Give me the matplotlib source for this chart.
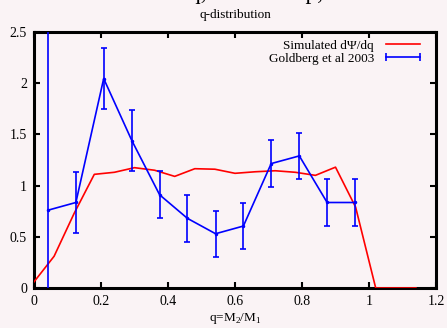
import matplotlib
matplotlib.use("Agg")
import matplotlib.pyplot as plt
from matplotlib.lines import Line2D

plt.rcParams['font.family'] = ['Liberation Serif', 'DejaVu Serif']
plt.rcParams['mathtext.fontset'] = 'custom'
plt.rcParams['mathtext.rm'] = 'Liberation Serif'

# Simulated dPsi/dq
sim_q = [0.0, 0.06, 0.12, 0.18, 0.24, 0.30, 0.36, 0.42, 0.48, 0.54, 0.60,
         0.66, 0.72, 0.78, 0.84, 0.90, 0.96, 1.02, 1.08, 1.14]
sim_val = [0.06, 0.31, 0.73, 1.11, 1.13, 1.175, 1.15, 1.09, 1.165, 1.16, 1.12,
           1.135, 1.145, 1.13, 1.10, 1.18, 0.79, 0.0, 0.0, 0.0]

# Goldberg et al 2003
gold_q = [0.042, 0.125, 0.208, 0.292, 0.375, 0.458, 0.542, 0.625, 0.708,
          0.792, 0.875, 0.958]
gold_val = [0.76, 0.835, 2.045, 1.44, 0.91, 0.68, 0.53, 0.605, 1.215,
            1.29, 0.835, 0.835]
gold_err = [2.0, 0.30, 0.30, 0.30, 0.23, 0.23, 0.225, 0.225, 0.23,
            0.225, 0.23, 0.23]

xticks = [0, 0.2, 0.4, 0.6, 0.8, 1.0, 1.2]
xticklabels = ['0', '0.2', '0.4', '0.6', '0.8', '1', '1.2']
yticks = [0, 0.5, 1.0, 1.5, 2.0, 2.5]
yticklabels = ['0', '0.5', '1', '1.5', '2', '2.5']

bg = '#faf3f5'
fig = plt.figure(figsize=(4.47, 3.28), dpi=100, facecolor=bg)
ax = fig.add_axes([34/447, 40/328, 402/447, 256/328], facecolor=bg)

ax.plot(sim_q, sim_val, color='#ff0000', lw=1.2, zorder=3)
ax.errorbar(gold_q, gold_val, yerr=gold_err, color='#0000ff', lw=1.2,
            elinewidth=1.2, capsize=2.5, capthick=1.2, marker='.', ms=3,
            zorder=3)

ax.set_xlim(0, 1.2)
ax.set_ylim(0, 2.5)
ax.set_xticks(xticks)
ax.set_xticklabels(xticklabels)
ax.set_yticks(yticks)
ax.set_yticklabels(yticklabels)
ax.tick_params(direction='in', length=4, width=1.5, top=True, right=True,
               labelsize=10, pad=5, colors='black')
for s in ax.spines.values():
    s.set_linewidth(2.2)

ax.set_xlabel('q=M$_2$/M$_1$', fontsize=9.5, labelpad=2)
ax.set_title('q-distribution', fontsize=9.5, pad=10)
fig.text(0.52, 1 + 1.5/328, 'dΨ/dq,  data  dΨ/p,', fontsize=17,
         ha='center', va='baseline')

h1 = Line2D([], [], color='#ff0000', lw=1.2)
h2 = Line2D([], [], color='#0000ff', lw=1.2, marker='|', ms=6, mew=1.2)
leg = ax.legend([h1, h2], ['Simulated dΨ/dq', 'Goldberg et al 2003'],
                loc='upper right', frameon=False, markerfirst=False,
                fontsize=9.5, handlelength=3.2, handletextpad=0.6,
                labelspacing=0.05, borderaxespad=0.3, numpoints=2,
                bbox_to_anchor=(0.993, 1.007))
for t in leg.get_texts():
    t.set_ha('right')

fig.savefig('out.png', dpi=100, facecolor=bg)
